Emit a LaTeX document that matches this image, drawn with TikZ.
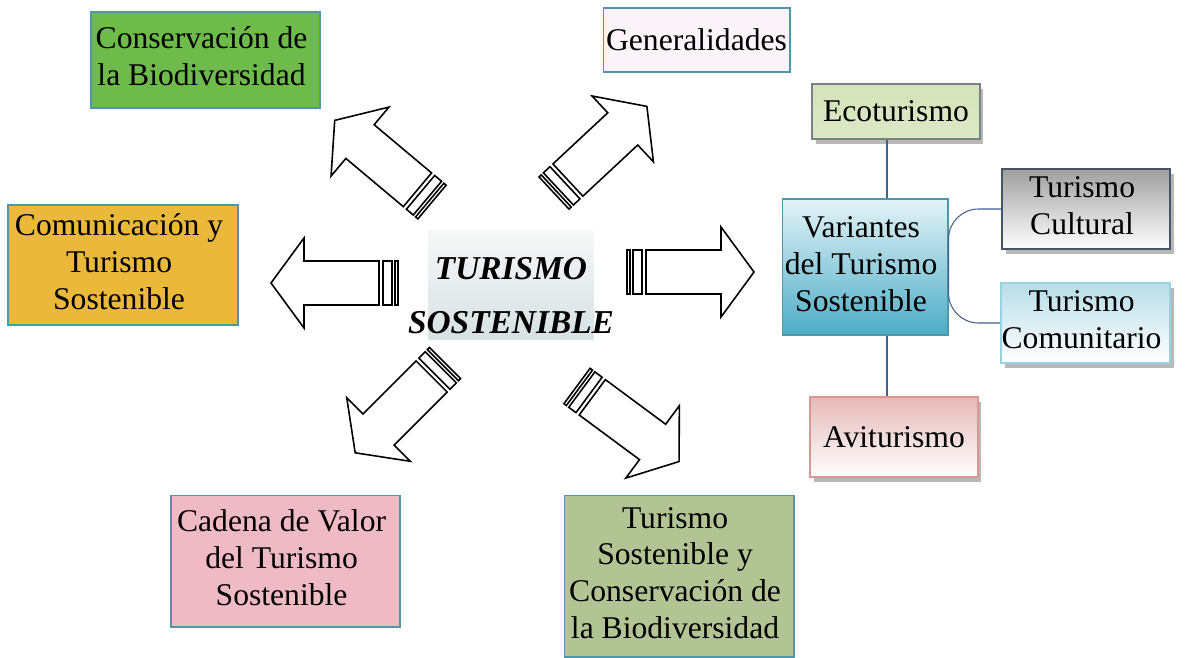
\documentclass[tikz,border=0pt]{standalone}
\usepackage{fontspec}
\setmainfont{Liberation Serif}
\usetikzlibrary{shadows}
\definecolor{frame}{RGB}{80,150,170}
\definecolor{link}{RGB}{65,95,145}
\definecolor{consgreen}{RGB}{110,186,74}
\definecolor{genpink}{RGB}{250,243,247}
\definecolor{comyellow}{RGB}{234,184,58}
\definecolor{cadpink}{RGB}{240,186,196}
\definecolor{tscgreen}{RGB}{178,196,148}
\definecolor{ecogreen}{RGB}{212,227,184}
\definecolor{varblue}{RGB}{75,172,198}
\definecolor{cultline}{RGB}{70,85,105}
\definecolor{comublue}{RGB}{183,222,232}
\definecolor{comuline}{RGB}{150,210,225}
\definecolor{avipink}{RGB}{230,185,184}
\definecolor{aviline}{RGB}{217,150,148}
\tikzset{
	line/.style={draw=link, line width=0.6pt},
	bf/.style={font={\fontsize{19}{31}\selectfont\bfseries\itshape}},
	txt/.style={font={\fontsize{18}{21}\selectfont}},
	striped/.pic={
		\draw[line width=0.9pt] (0,-22) rectangle (3,22);
		\draw[line width=0.9pt] (6,-22) rectangle (15,22);
		\draw[line width=0.9pt, fill=white] (19,-22) -- (94,-22) -- (94,-45) -- (127,0)
			-- (94,45) -- (94,22) -- (19,22) -- cycle;
	}
}
\tikzstyle{base} =
	[
		draw = frame,
		line width = 0.6pt,
		txt,
		inner sep = 0pt,
		align = center
	]
\tikzstyle{sub} =
	[
		base,
		line width = 1.3pt,
		drop shadow = {shadow xshift=0.7mm, shadow yshift=-1mm, fill=black!28, opacity=1}
	]

\begin{document}
\begin{tikzpicture}[x=0.02cm, y=-0.02cm]
	\useasboundingbox (0,0) rectangle (1196,657);
	% centro
	\node[bf, inner sep=0pt, top color=gray!6, bottom color={rgb,255:red,214;green,225;blue,227},
		minimum width=3.3cm, minimum height=2.12cm] (hub) at (511,285) {
		\raisebox{-0.21cm}[\height][\depth]{\begin{tabular}{@{}c@{}}
			\makebox[0pt]{TURISMO} \\
			\makebox[0pt]{SOSTENIBLE}
		\end{tabular}}
	};
	% temas
	\node[base, fill=consgreen, minimum width=4.58cm, minimum height=1.92cm] (cons) at (205.5,60) {
		\begin{tabular}{@{}c@{}}
			Conservación de \\ la Biodiversidad
		\end{tabular}
	};
	\node[base, fill=genpink, minimum width=3.74cm, minimum height=1.28cm] (gen) at (696.5,40) {Generalidades};
	\node[base, fill=comyellow, minimum width=4.6cm, minimum height=2.4cm] (com) at (123,265) {
		\begin{tabular}{@{}c@{}}
			Comunicación y \\ Turismo \\ Sostenible
		\end{tabular}
	};
	\node[base, fill=cadpink, minimum width=4.58cm, minimum height=2.64cm] (cad) at (285.5,561) {
		\begin{tabular}{@{}c@{}}
			Cadena de Valor \\ del Turismo \\ Sostenible
		\end{tabular}
	};
	\node[base, fill=tscgreen, minimum width=4.6cm, minimum height=3.24cm] (tsc) at (679,576) {
		\begin{tabular}{@{}c@{}}
			Turismo \\ Sostenible y \\ Conservación de \\ la Biodiversidad
		\end{tabular}
	};
	% variantes
	\node[base, draw=frame, top color=varblue!15, bottom color=varblue,
		minimum width=3.32cm, minimum height=2.72cm] (var) at (865,267) {
		\begin{tabular}{@{}c@{}}
			Variantes \\ del Turismo \\ Sostenible
		\end{tabular}
	};
	\node[sub, draw=gray!80!frame, line width=0.8pt, top color=ecogreen, bottom color=ecogreen!80!white,
		minimum width=3.36cm, minimum height=1.1cm] (eco) at (896,111.5) {Ecoturismo};
	\node[sub, draw=cultline, top color=gray!75, bottom color=white,
		minimum width=3.36cm, minimum height=1.6cm] (cult) at (1086,209) {
		\begin{tabular}{@{}c@{}}
			Turismo \\ Cultural
		\end{tabular}
	};
	\node[sub, draw=comuline, top color=comublue, bottom color=white,
		minimum width=3.38cm, minimum height=1.6cm] (comu) at (1085.5,323) {
		\begin{tabular}{@{}c@{}}
			Turismo \\ Comunitario
		\end{tabular}
	};
	\node[sub, draw=aviline, top color=avipink, bottom color=white,
		minimum width=3.36cm, minimum height=1.6cm] (avi) at (894,437) {Aviturismo};
	\draw[line] ([xshift=-0.18cm]eco.south) -- ([xshift=-0.18cm]eco.south |- var.north);
	\draw[line] ([xshift=-0.14cm]avi.north |- var.south) -- ([xshift=-0.14cm]avi.north);
	\draw[line, rounded corners=6mm] (var.east) |- (cult.west);
	\draw[line, rounded corners=6mm] (var.east) |- (comu.west);
	% flechas
	\pic[rotate=0] at (627,272) {striped};
	\pic[rotate=180] at (398,283) {striped};
	\pic[rotate=140] at (432,202) {striped};
	\pic[rotate=43] at (554,193) {striped};
	\pic[rotate=225] at (445,363) {striped};
	\pic[rotate=-36.5] at (577,386) {striped};
\end{tikzpicture}
\end{document}
